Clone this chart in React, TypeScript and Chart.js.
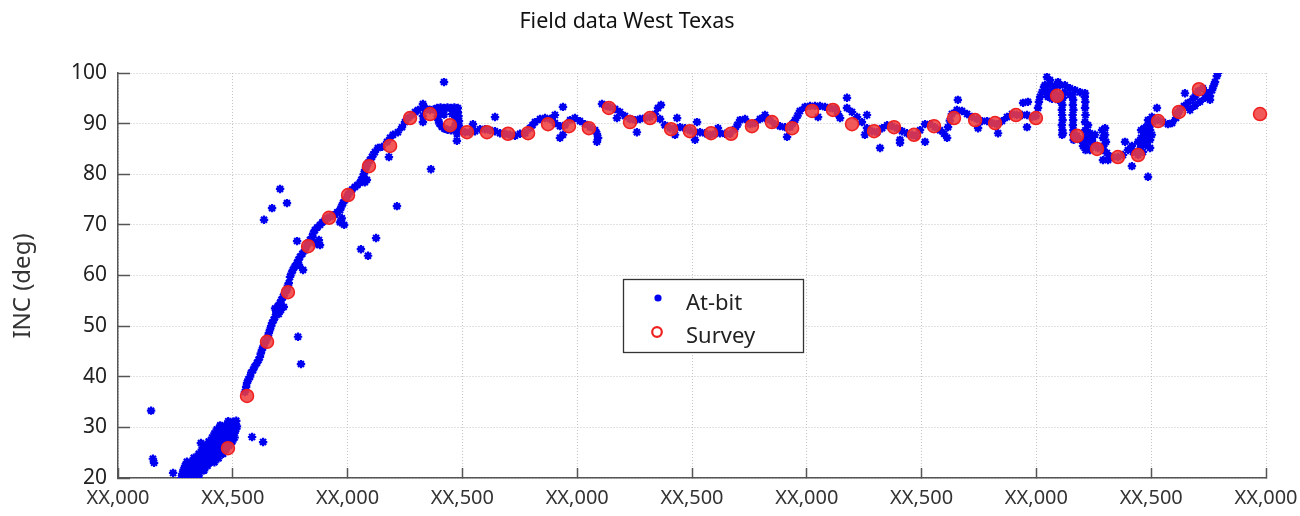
import { useEffect, useRef } from "react";
import { Chart, registerables } from "chart.js";

Chart.register(...registerables);

const chartTitle = "Field data West Texas";
const yAxisTitle = "INC (deg)";
const depthTicks = [0, 500, 1000, 1500, 2000, 2500, 3000, 3500, 4000, 4500, 5000];
const depthTickLabels = ["XX,000", "XX,500", "XX,000", "XX,500", "XX,000", "XX,500", "XX,000", "XX,500", "XX,000", "XX,500", "XX,000"];
const incTicks = [20, 30, 40, 50, 60, 70, 80, 90, 100];

const surveyDepth = [479, 562, 649, 740, 828, 919, 1002, 1093, 1185, 1272, 1359, 1446, 1520, 1607, 1699, 1786, 1873, 1964, 2051, 2138, 2230, 2317, 2409, 2491, 2583, 2670, 2761, 2848, 2936, 3023, 3114, 3197, 3293, 3380, 3467, 3554, 3641, 3733, 3820, 3911, 3998, 4090, 4177, 4264, 4355, 4443, 4530, 4621, 4708, 4974];
const surveyInc = [25.9, 36.2, 46.9, 56.7, 65.8, 71.4, 75.9, 81.6, 85.6, 91.1, 91.9, 89.7, 88.3, 88.3, 88.0, 88.1, 89.9, 89.5, 89.1, 93.1, 90.3, 91.1, 88.9, 88.5, 88.1, 88.0, 89.5, 90.3, 89.1, 92.5, 92.7, 89.9, 88.5, 89.3, 87.8, 89.5, 91.1, 90.7, 90.1, 91.7, 91.1, 95.5, 87.6, 85.0, 83.4, 83.8, 90.5, 92.3, 96.8, 91.9];

// At-bit readings [depth, inc]
const atBitShallow: [number, number][] = [
  [275, 20.0], [290, 20.1], [305, 20.0], [320, 20.2], [335, 20.0], [350, 20.1],
  [280, 20.8], [295, 20.7], [310, 20.9], [325, 20.8], [340, 20.6], [355, 20.9],
  [285, 21.6], [300, 21.5], [315, 21.7], [330, 21.6], [345, 21.4], [360, 21.7], [375, 21.5],
  [292, 22.4], [308, 22.3], [324, 22.5], [340, 22.4], [356, 22.2], [372, 22.5], [390, 22.4],
  [300, 23.2], [318, 23.1], [336, 23.3], [354, 23.2], [372, 23.0], [390, 23.3], [408, 23.2], [420, 23.1],
  [330, 24.0], [348, 24.1], [366, 23.9], [384, 24.0], [402, 24.2], [420, 24.0], [438, 23.9],
  [352, 24.8], [370, 24.7], [388, 24.9], [406, 24.8], [424, 24.6], [442, 24.9], [458, 24.8],
  [365, 25.6], [383, 25.5], [401, 25.7], [419, 25.6], [437, 25.4], [455, 25.7], [470, 25.6],
  [380, 26.4], [398, 26.3], [416, 26.5], [434, 26.4], [452, 26.2], [470, 26.5], [485, 26.4],
  [395, 27.2], [413, 27.1], [431, 27.3], [449, 27.2], [467, 27.0], [485, 27.3], [498, 27.2],
  [410, 28.0], [428, 27.9], [446, 28.1], [464, 28.0], [482, 27.8], [500, 28.1], [508, 28.0],
  [420, 28.8], [438, 28.7], [456, 28.9], [474, 28.8], [492, 28.6], [508, 28.9],
  [430, 29.6], [448, 29.5], [466, 29.7], [484, 29.6], [500, 29.4], [515, 29.7],
  [445, 30.4], [465, 30.3], [485, 30.5], [505, 30.4], [518, 30.2],
  [480, 31.2], [500, 31.1], [515, 31.3],
];

const atBitBuild: [number, number][] = [
  [553, 37.0], [558, 38.0], [562, 38.8], [568, 39.5], [575, 40.0], [580, 40.8], [588, 41.3], [595, 42.0],
  [605, 42.7], [612, 43.3], [618, 43.9], [622, 44.6], [627, 45.3], [633, 46.0], [640, 46.7], [646, 47.3],
  [653, 47.9], [657, 48.6], [662, 49.3], [667, 50.0], [671, 50.6], [678, 51.2], [684, 51.8], [690, 52.5],
  [697, 53.2], [702, 54.0], [706, 54.6], [712, 55.2], [719, 55.8], [727, 56.5], [736, 57.2], [740, 58.0],
  [744, 58.5], [749, 59.7], [755, 60.4], [762, 61.1], [770, 61.8], [780, 62.5], [786, 63.1], [793, 63.7],
  [803, 64.3], [814, 65.0], [820, 65.7], [828, 66.4], [836, 67.0], [845, 67.6], [850, 68.3], [858, 69.0],
  [868, 69.5], [880, 70.0], [890, 70.5], [902, 71.0], [912, 71.3], [923, 71.6], [935, 71.8], [945, 72.0],
  [955, 72.5], [967, 72.9], [973, 73.6], [980, 74.3], [988, 74.9], [997, 75.5], [1003, 76.0], [1010, 76.5],
  [1020, 77.0], [1032, 77.5], [1043, 77.9], [1054, 78.3], [1060, 78.9], [1067, 79.5], [1071, 80.1], [1076, 80.8],
  [1082, 81.5], [1089, 82.2], [1097, 82.8], [1106, 83.4], [1112, 83.9], [1119, 84.4],
  [684, 53.5], [697, 54.0], [710, 53.2], [722, 53.8], [700, 52.4], [690, 52.8],
  [850, 66.6], [865, 66.2], [875, 67.0], [880, 66.0], [967, 70.5], [975, 71.3], [985, 70.0],
  [1075, 78.4], [1084, 78.9],
];

const atBitLateral: [number, number][] = [
  [1132, 85.2], [1150, 85.4], [1172, 86.4], [1185, 87.2], [1198, 87.8], [1219, 88.3], [1237, 89.3], [1250, 90.3],
  [1263, 91.1], [1280, 91.7], [1294, 92.3], [1307, 92.7], [1328, 93.1], [1345, 92.9], [1359, 92.7], [1375, 92.8], [1389, 92.7],
  [1390, 93.1], [1405, 93.2], [1420, 93.1], [1435, 93.2], [1450, 93.1], [1465, 93.2], [1480, 93.1],
  [1395, 92.3], [1410, 92.4], [1465, 92.4], [1480, 92.3], [1392, 91.5], [1395, 90.7], [1400, 90.0], [1410, 89.4],
  [1422, 89.0], [1470, 91.5], [1483, 91.5], [1475, 90.7], [1485, 90.5], [1470, 89.8], [1485, 89.6], [1435, 88.8],
  [1450, 88.7], [1462, 88.9], [1478, 88.8], [1420, 91.8], [1455, 91.9],
  [1490, 88.7], [1511, 88.3], [1533, 88.3], [1555, 88.5], [1577, 88.9], [1598, 88.9], [1620, 88.7], [1642, 88.5],
  [1664, 88.1], [1686, 88.0], [1707, 87.8], [1729, 87.6], [1751, 88.0], [1773, 88.1], [1794, 89.1], [1805, 89.7],
  [1816, 90.3], [1838, 90.9], [1860, 91.1], [1882, 90.9], [1903, 90.1], [1925, 89.5], [1947, 89.7], [1969, 90.7],
  [1990, 91.1], [2012, 90.5], [2034, 89.9], [2056, 89.3], [2078, 88.7], [2086, 88.0], [2091, 87.2],
  [2108, 93.9], [2125, 93.5], [2143, 93.3], [2165, 92.9], [2186, 92.3], [2208, 91.5], [2230, 90.9], [2252, 90.7],
  [2273, 90.9], [2295, 91.1], [2317, 91.3], [2339, 91.9], [2361, 90.9], [2382, 89.7], [2404, 89.1], [2426, 89.1],
  [2448, 89.3], [2470, 89.1], [2491, 88.7], [2513, 88.3], [2535, 88.3], [2557, 88.1], [2578, 87.8], [2600, 88.0],
  [2622, 88.1], [2644, 88.0], [2665, 88.0], [2687, 88.9], [2698, 89.8], [2709, 90.7], [2731, 90.9], [2753, 89.9],
  [2774, 90.1], [2796, 90.9], [2818, 91.1], [2840, 90.7], [2861, 89.9], [2883, 89.5], [2905, 89.3], [2927, 89.3],
  [2938, 90.0], [2949, 90.7], [2960, 91.6], [2970, 92.5], [2992, 93.3], [3014, 93.5], [3036, 93.5], [3057, 93.5],
  [3079, 93.3], [3101, 93.1], [3123, 92.9], [3136, 91.9], [3145, 91.1], [3175, 93.1], [3197, 92.3], [3219, 91.3],
  [3240, 90.3], [3262, 89.1], [3284, 88.5], [3306, 88.3], [3328, 89.1], [3350, 89.7], [3371, 89.5], [3393, 89.1],
  [3415, 88.5], [3436, 88.1], [3458, 87.8], [3476, 87.6], [3493, 88.7], [3515, 89.9], [3537, 89.9], [3558, 89.3],
  [3580, 88.7], [3598, 88.0], [3615, 89.3], [3623, 90.6], [3632, 91.9], [3654, 92.7], [3676, 92.5], [3698, 91.9],
  [3719, 91.3], [3741, 90.9], [3763, 90.5], [3785, 90.5], [3807, 90.1], [3828, 89.9], [3850, 90.5], [3872, 91.3],
  [3894, 91.9], [3915, 91.7], [3937, 91.7], [3959, 91.7], [3981, 91.3], [3998, 91.5], [4007, 93.1], [4011, 94.3],
  [4016, 95.3], [4024, 96.2], [4033, 97.2],
];

const atBitToe: [number, number][] = [
  [4037, 97.6], [4059, 97.8], [4081, 97.4], [4103, 97.6], [4124, 97.6], [4146, 97.0], [4168, 96.6], [4190, 96.2],
  [4212, 96.0], [4037, 96.2], [4059, 96.6], [4081, 96.0], [4103, 95.7], [4124, 96.2], [4146, 95.7], [4050, 95.3],
  [4068, 94.9], [4094, 94.7], [4116, 95.1], [4059, 98.6], [4094, 98.2],
  [4110, 94.7], [4113, 93.7], [4111, 92.7], [4112, 91.7], [4114, 90.7], [4111, 89.7], [4113, 88.7], [4112, 87.8],
  [4158, 95.7], [4160, 94.7], [4159, 93.7], [4161, 92.7], [4158, 91.7], [4160, 90.7], [4159, 89.7], [4161, 88.7], [4160, 87.8], [4162, 86.8],
  [4211, 95.3], [4213, 94.3], [4212, 93.1], [4214, 91.7], [4212, 90.3], [4213, 88.7], [4215, 87.4], [4213, 86.2], [4214, 84.8],
  [4177, 87.6], [4190, 86.8], [4203, 85.6], [4225, 86.2], [4233, 84.8], [4255, 85.8], [4268, 85.2], [4290, 84.8],
  [4307, 84.2], [4329, 83.4], [4355, 83.4], [4377, 83.8], [4399, 84.8], [4421, 84.4], [4443, 83.8], [4464, 84.4],
  [4477, 85.8], [4486, 87.2], [4495, 88.7], [4495, 89.7], [4508, 90.3], [4530, 90.7], [4551, 90.3], [4573, 89.9],
  [4591, 90.1], [4608, 91.1], [4616, 91.9], [4625, 92.7], [4643, 93.5], [4660, 94.1], [4682, 94.9], [4693, 95.6],
  [4704, 96.4], [4725, 97.0], [4743, 96.0], [4756, 95.5], [4765, 96.6], [4771, 97.4], [4778, 98.2], [4786, 99.4], [4791, 100.0],
  [4456, 88.7], [4456, 87.2], [4456, 85.6], [4469, 89.1], [4469, 87.6], [4469, 86.0], [4482, 89.5], [4482, 88.0],
  [4495, 86.8], [4495, 85.2], [4503, 87.8], [4443, 86.4], [4451, 84.8], [4486, 90.7], [4503, 91.3],
  [4286, 88.7], [4299, 89.1], [4299, 87.8], [4303, 86.4], [4290, 87.2], [4292, 85.6], [4290, 82.8], [4312, 82.8],
  [4225, 89.7], [4233, 88.1], [4242, 86.8], [4255, 87.8],
  [4612, 92.1], [4647, 96.0], [4669, 92.7], [4690, 93.5], [4712, 94.3], [4734, 95.1], [4756, 94.7],
];

const atBitStray: [number, number][] = [
  [144, 33.3], [152, 23.8], [157, 23.0], [240, 21.0], [361, 26.9], [584, 28.1], [632, 27.1],
  [706, 77.1], [736, 74.3], [671, 73.3], [636, 71.0], [780, 66.8], [788, 62.1], [806, 61.1], [784, 47.9],
  [797, 42.5], [1058, 65.2], [1089, 63.9], [1124, 67.4], [1215, 73.7],
  [1180, 83.4], [1420, 98.2], [1328, 93.9], [1328, 91.5], [1328, 90.3], [1476, 88.0], [1476, 86.6], [1546, 89.9],
  [1363, 81.0], [1642, 91.3], [1903, 91.7], [1938, 93.3], [1938, 87.8], [1925, 87.2], [2086, 86.4], [2173, 91.1],
  [2260, 88.3], [2352, 93.1], [2365, 93.7], [2426, 87.8], [2435, 91.1], [2522, 90.3], [2513, 86.8], [2613, 89.1],
  [2818, 91.7], [2914, 87.4], [3175, 95.1], [3049, 91.3], [3262, 91.7], [3253, 87.8], [3319, 85.2], [3406, 86.8],
  [3406, 86.2], [3515, 86.4], [3611, 87.2], [3658, 94.7], [3746, 89.1], [3833, 88.1], [3942, 94.1], [3963, 94.3],
  [3959, 89.3], [4046, 99.2], [4386, 86.4], [4416, 85.6], [4416, 81.6], [4486, 79.5], [4525, 93.1], [4116, 88.1],
];

const FONT = "'Noto Sans', sans-serif";
const BLUE = "#0000f0";
const RED = "#ee2020";

// Boxed legend inside the plot, MATLAB style
const boxLegend = {
  id: "boxLegend",
  afterDraw(chart: any) {
    const ctx: CanvasRenderingContext2D = chart.ctx;
    const left = 623, top = 279, w = 180, h = 73;
    ctx.save();
    ctx.fillStyle = "#ffffff";
    ctx.fillRect(left, top, w, h);
    ctx.strokeStyle = "#333333";
    ctx.lineWidth = 1.3;
    ctx.strokeRect(left + 0.5, top + 0.5, w, h);
    const labels = chart.data.datasets.map((d: any) => d.label);
    const atBitLabel = labels[1];
    const surveyLabel = labels[0];
    ctx.fillStyle = BLUE;
    ctx.beginPath();
    ctx.arc(658, 298, 3.6, 0, Math.PI * 2);
    ctx.fill();
    ctx.strokeStyle = RED;
    ctx.lineWidth = 2.2;
    ctx.fillStyle = "#ffffff";
    ctx.beginPath();
    ctx.arc(657, 332, 4.8, 0, Math.PI * 2);
    ctx.fill();
    ctx.stroke();
    ctx.fillStyle = "#222222";
    ctx.font = `22px ${FONT}`;
    ctx.textAlign = "left";
    ctx.textBaseline = "alphabetic";
    ctx.fillText(atBitLabel, 686, 310);
    ctx.fillText(surveyLabel, 686, 343);
    ctx.restore();
  },
};

// Rotated y-axis title, centred where the reference puts it
const yTitle = {
  id: "yTitle",
  afterDraw(chart: any) {
    const ctx: CanvasRenderingContext2D = chart.ctx;
    ctx.save();
    ctx.translate(23, 286);
    ctx.rotate(-Math.PI / 2);
    ctx.fillStyle = "#333333";
    ctx.font = `24px ${FONT}`;
    ctx.textAlign = "center";
    ctx.textBaseline = "middle";
    ctx.fillText(yAxisTitle, 0, 0);
    ctx.restore();
  },
};

export default function App() {
  const ref = useRef<HTMLCanvasElement | null>(null);

  useEffect(() => {
    if (!ref.current) return;
    const survey = surveyDepth.map((d, i) => ({ x: d, y: surveyInc[i] }));
    const atBit = [...atBitShallow, ...atBitBuild, ...atBitLateral, ...atBitToe, ...atBitStray].map(([x, y]) => ({ x, y }));

    const chart = new Chart(ref.current, {
      type: "scatter",
      data: {
        datasets: [
          {
            label: "Survey",
            data: survey,
            pointStyle: "circle",
            pointRadius: 6.5,
            backgroundColor: "rgba(240,60,60,0.85)",
            borderColor: RED,
            borderWidth: 1.5,
            order: 0,
            clip: false,
          },
          {
            label: "At-bit",
            data: atBit,
            pointStyle: "star",
            pointRadius: 4.2,
            backgroundColor: BLUE,
            borderColor: BLUE,
            borderWidth: 2.2,
            order: 1,
            clip: 0,
          },
        ],
      },
      options: {
        animation: false,
        responsive: true,
        maintainAspectRatio: false,
        layout: { padding: { left: -12, right: 34, top: 0, bottom: 0 } },
        plugins: {
          legend: { display: false },
          tooltip: { enabled: false },
          title: {
            display: true,
            text: chartTitle,
            color: "#111111",
            font: { family: FONT, size: 21.5, weight: "normal" },
            padding: { top: 9.1, bottom: 38.1 },
          },
        },
        scales: {
          x: {
            type: "linear",
            min: 0,
            max: 5000,
            afterBuildTicks: (s: any) => {
              s.ticks = depthTicks.map((v) => ({ value: v }));
            },
            afterFit: (s: any) => {
              s.height = 38;
              s.paddingLeft = 0;
              s.paddingRight = 0;
            },
            ticks: {
              autoSkip: false,
              maxRotation: 0,
              padding: 18,
              color: "#333333",
              font: { family: FONT, size: 20 },
              callback: (v: any) => depthTickLabels[depthTicks.indexOf(Number(v))] ?? "",
            },
            grid: {
              color: "#c4c4c4",
              lineWidth: 1,
              tickLength: -10,
              tickColor: "#555555",
              tickWidth: 1.5,
              tickBorderDash: [],
            },
            border: { display: true, color: "#555555", width: 1.5, dash: [1, 2] },
          },
          y: {
            type: "linear",
            min: 20,
            max: 100,
            afterBuildTicks: (s: any) => {
              s.ticks = incTicks.map((v) => ({ value: v }));
            },
            afterFit: (s: any) => {
              s.width = 130;
              s.paddingTop = 0;
              s.paddingBottom = 0;
            },
            ticks: {
              padding: 23,
              color: "#222222",
              font: { family: FONT, size: 21 },
            },
            grid: {
              color: "#c4c4c4",
              lineWidth: 1,
              tickLength: -12,
              tickColor: "#555555",
              tickWidth: 1.5,
              tickBorderDash: [],
            },
            border: { display: true, color: "#555555", width: 1.5, dash: [1, 2] },
          },
        },
      },
      plugins: [boxLegend, yTitle],
    } as any);

    return () => chart.destroy();
  }, []);

  return (
    <div style={{ position: "fixed", left: 0, top: 0, width: 1300, height: 516, background: "#ffffff" }}>
      <canvas ref={ref} />
    </div>
  );
}
